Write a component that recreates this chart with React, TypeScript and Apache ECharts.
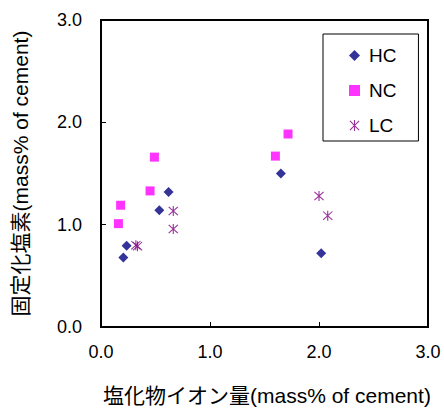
import React, { useEffect, useRef } from "react";
import * as echarts from "echarts";

const seriesNames = ["HC", "NC", "LC"];
const hcData: number[][] = [[0.205, 0.68], [0.235, 0.795], [0.535, 1.14], [0.62, 1.32], [1.65, 1.5], [2.02, 0.72]];
const ncData: number[][] = [[0.16, 1.01], [0.18, 1.19], [0.45, 1.33], [0.49, 1.66], [1.6, 1.67], [1.716, 1.886]];
const lcData: number[][] = [[0.32, 0.8], [0.335, 0.79], [0.663, 1.134], [0.663, 0.958], [2.0, 1.28], [2.08, 1.088]];
const xAxisName = "塩化物イオン量(mass% of cement)";
const yAxisName = "固定化塩素(mass% of cement)";

const ASTERISK =
  "path://M9 0L11 0L11 20L9 20Z M1 2.4L2.4 1L19 17.6L17.6 19Z M17.6 1L19 2.4L2.4 19L1 17.6Z";

const FONT = "'Liberation Sans', 'Noto Sans CJK JP', sans-serif";

export default function App() {
  const ref = useRef<HTMLDivElement>(null);
  useEffect(() => {
    if (!ref.current) return;
    const chart = echarts.init(ref.current, undefined, { renderer: "svg" });
    const axisCommon = {
      min: 0,
      max: 3,
      interval: 1,
      axisLine: { show: true, lineStyle: { color: "#000", width: 2 } },
      axisTick: { show: true, inside: true, length: 5, lineStyle: { color: "#000", width: 1 } },
      splitLine: { show: false },
    };
    chart.setOption({
      animation: false,
      backgroundColor: "#fff",
      textStyle: { fontFamily: FONT },
      grid: {
        left: 101,
        right: 16,
        top: 20,
        bottom: 82,
        show: true,
        borderColor: "#000",
        borderWidth: 2,
        containLabel: false,
        outerBoundsMode: "none",
      },
      legend: {
        data: seriesNames,
        orient: "vertical",
        left: 323,
        top: 34,
        itemWidth: 11,
        itemHeight: 11,
        itemGap: 16,
        padding: [12, 22, 6, 26],
        borderColor: "#000",
        borderWidth: 1,
        backgroundColor: "#fff",
        textStyle: { fontSize: 19, color: "#000", fontFamily: FONT, padding: [0, 0, 0, 4] },
      },
      xAxis: {
        ...axisCommon,
        type: "value",
        name: xAxisName,
        nameLocation: "start",
        nameGap: -2,
        nameTextStyle: {
          fontSize: 21,
          color: "#000",
          align: "left",
          verticalAlign: "top",
          padding: [58, 0, 0, 0],
          fontFamily: FONT,
        },
        axisLabel: {
          fontSize: 18,
          color: "#000",
          margin: 16,
          formatter: (v: number) => v.toFixed(1),
          fontFamily: FONT,
        },
      },
      yAxis: {
        ...axisCommon,
        type: "value",
        name: yAxisName,
        nameLocation: "middle",
        nameGap: 70,
        nameTextStyle: { fontSize: 21, color: "#000", fontFamily: FONT },
        axisLabel: {
          fontSize: 18,
          color: "#000",
          margin: 19,
          formatter: (v: number) => v.toFixed(1),
          fontFamily: FONT,
        },
      },
      series: [
        {
          name: seriesNames[0],
          type: "scatter",
          data: hcData,
          symbol: "diamond",
          symbolSize: 10,
          itemStyle: { color: "#000080" },
        },
        {
          name: seriesNames[1],
          type: "scatter",
          data: ncData,
          symbol: "rect",
          symbolSize: 9,
          itemStyle: { color: "#FF00FF" },
        },
        {
          name: seriesNames[2],
          type: "scatter",
          data: lcData,
          symbol: ASTERISK,
          symbolSize: 10,
          itemStyle: { color: "#800080" },
        },
      ],
    });
    return () => chart.dispose();
  }, []);
  return (
    <div
      ref={ref}
      style={{ position: "absolute", left: 0, top: 0, width: 444, height: 409 }}
    />
  );
}
